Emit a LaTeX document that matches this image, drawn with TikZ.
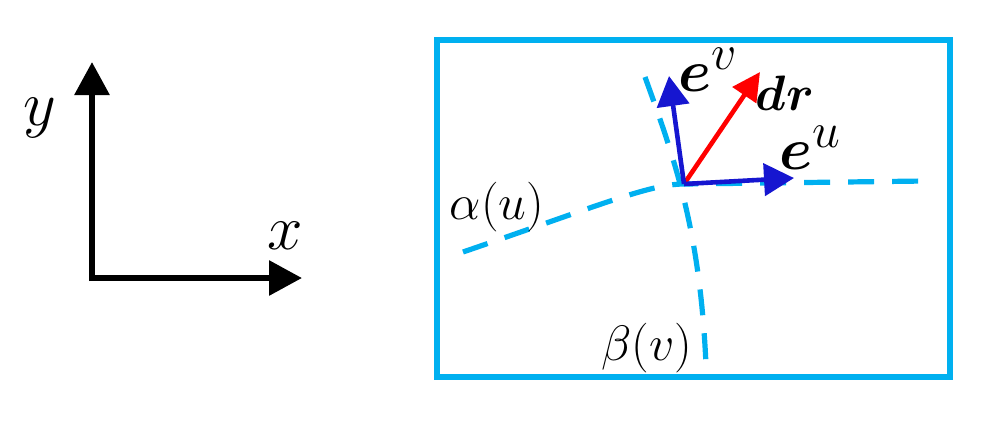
\documentclass[tikz,border=0pt]{standalone}
\usepackage{amsmath,bm}
\usepackage{tikz}
\usetikzlibrary{positioning}
\usetikzlibrary{arrows.meta,calc}
\definecolor{skyblue}{RGB}{0,176,240}
\definecolor{vecblue}{RGB}{22,22,208}
\tikzset{
    % axis arrows
    axis/.style={
           -{Triangle[length=16.5pt,width=17pt]},
           line width=3pt,
           color=black},
    % base vectors
    basevec/.style={
           -{Triangle[length=15pt,width=16pt]},
           line width=2.3pt,
           color=vecblue},
}

\begin{document}
\begin{tikzpicture}[x=0.5pt, y=-0.5pt, outer sep=0pt]
\tikzstyle{coordline}=[draw=skyblue, line width=2.6pt, dash pattern=on 13pt off 9pt]
\tikzstyle{mathlabel}=[inner sep=0pt, anchor=center, font=\Huge]
\useasboundingbox (0,0) rectangle (990,425);

%%%%%%%%%%%%%%%%%%%%%%%%%%%%%%%%%
% global axes
%%%%%%%%%%%%%%%%%%%%%%%%%%%%%%%%%
    \coordinate (orig) at (92,278);
    \coordinate (xtip) at (302,278);
    \coordinate (ytip) at (92,62);
    \draw[axis] ([xshift=-1.5pt]orig) -- (xtip);
    \draw[axis] ([yshift=-1.5pt]orig) -- (ytip);
    \node[mathlabel, scale=1.28] (xlabel) at (285,236) {$x$};
    \node[mathlabel, scale=1.28] (ylabel) at (40,118) {$y$};

%%%%%%%%%%%%%%%%%%%%%%%%%%%%%%%%%
% local frame
%%%%%%%%%%%%%%%%%%%%%%%%%%%%%%%%%
    \draw[skyblue, line width=2.6pt] (437,40) rectangle (950,377);

    \coordinate (O) at (684,184);
    \coordinate (alpha0) at (463,252);
    \coordinate (alpha1) at (925,181);
    \coordinate (beta0) at (645,77);
    \coordinate (beta1) at (706,365);

    \path[coordline] (alpha0) .. controls (600,205) and (650,184) .. (O) -- (alpha1);
    \path[coordline] (beta0) .. controls (675,160) and (700,230) .. (beta1);

    \coordinate (eutip) at (794,178);
    \coordinate (evtip) at (669,76);
    \coordinate (drtip) at (760,72);
    \draw[basevec, red, -{Triangle[length=14pt,width=14pt]}] (O) -- (drtip);
    \draw[basevec] (O) -- (eutip);
    \draw[basevec] (O) -- (evtip);

    \node[mathlabel, scale=1.2] (ev) at (708,70) {$\bm{e}^{v}$};
    \node[mathlabel, scale=1.2] (eu) at (810,148) {$\bm{e}^{u}$};
    \node[mathlabel] (dr) at (785,93) {$\bm{dr}$};
    \node[mathlabel] (alpha) at (497,207) {$\alpha(u)$};
    \node[mathlabel] (beta) at (647,348) {$\beta(v)$};

\end{tikzpicture}
\end{document}
